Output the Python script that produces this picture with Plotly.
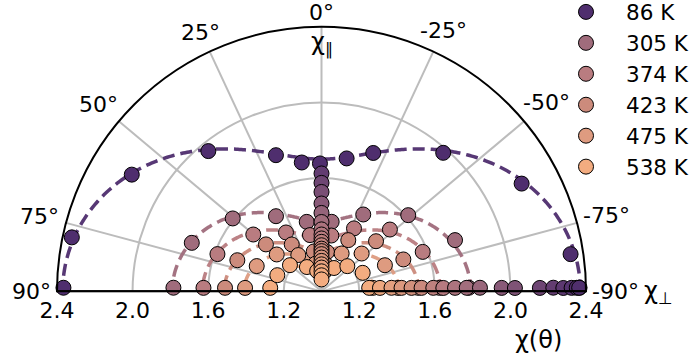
import numpy as np
import plotly.graph_objects as go

# Temperatures of the angular sweeps and their colours
temps = [86, 305, 374, 423, 475, 538]
colors = ["#4f2e6e", "#a06c7c", "#b97c80", "#cc8b7c", "#de9b80", "#f3ac80"]

# Angular sweeps: field angle (deg) and susceptibility chi(theta)
theta_86 = [89.2, 77.8, 58.4, 38.9, 18.5, 8.7, 0.7, -10.7, -20.5, -41.3, -61.7, -81.5, -89.2]
chi_86 = [2.366, 2.352, 2.179, 1.954, 1.760, 1.690, 1.677, 1.716, 1.782, 1.976, 2.203, 2.333, 2.366]

theta_305 = [88.6, 69.5, 50.6, 31.2, 12.0, -8.3, -28.5, -48.7, -69.0, -88.6]
chi_305 = [1.784, 1.733, 1.608, 1.465, 1.376, 1.372, 1.463, 1.611, 1.757, 1.780]

theta_374 = [88.3, 70.3, 50.2, 31.1, 11.6, -10.0, -27.3, -47.9, -68.7, -88.3]
chi_374 = [1.625, 1.585, 1.470, 1.364, 1.304, 1.300, 1.375, 1.488, 1.575, 1.625]

theta_423 = [87.9, 69.7, 49.8, 32.4, 11.0, -8.0, -27.6, -47.4, -68.7, -87.9]
chi_423 = [1.511, 1.475, 1.385, 1.294, 1.215, 1.210, 1.306, 1.392, 1.465, 1.511]

theta_475 = [87.4, 68.7, 50.5, 32.6, 12.0, -8.0, -28.0, -46.7, -67.6, -87.4]
chi_475 = [1.405, 1.368, 1.307, 1.228, 1.150, 1.145, 1.227, 1.292, 1.363, 1.405]

theta_538 = [86.1, 69.9, 50.3, 31.0, 12.0, -8.0, -28.0, -45.7, -65.8, -86.1]
chi_538 = [1.272, 1.249, 1.217, 1.150, 1.110, 1.105, 1.140, 1.191, 1.239, 1.272]

sweep_theta = [theta_86, theta_305, theta_374, theta_423, theta_475, theta_538]
sweep_chi = [chi_86, chi_305, chi_374, chi_423, chi_475, chi_538]

# Fitted chi_par / chi_perp for each temperature (dashed curves)
fit_par = [1.70, 1.37, 1.28, 1.21, 1.15, 1.10]
fit_perp = [2.37, 1.79, 1.63, 1.515, 1.41, 1.275]

# Temperature sweep: chi_par (field along 0 deg) and chi_perp (field along -90 deg)
chi_par_T = [1.624, 1.574, 1.526, 1.465, 1.415, 1.367, 1.328, 1.301, 1.280, 1.262,
             1.244, 1.226, 1.213, 1.197, 1.179, 1.161, 1.143, 1.126, 1.106, 1.085, 1.063]
chi_perp_T = [1.253, 1.310, 1.371, 1.424, 1.477, 1.530, 1.592, 1.645, 1.707, 1.769,
              1.839, 1.954, 2.024, 2.156, 2.227, 2.280, 2.324, 2.351, 2.364]
theta_perp_T = [-85.8, -86.6, -87.1, -87.5, -87.8, -88.0, -88.2, -88.4, -88.5, -88.6,
                -88.7, -88.9, -89.0, -89.1, -89.1, -89.2, -89.2, -89.2, -89.2]

# Axis ticks
radial_ticks = [1.2, 1.6, 2.0, 2.4]
angle_ticks = [-90, -75, -50, -25, 0, 25, 50, 75, 90]
angle_text = [f"{a}°" for a in angle_ticks]

FONT = "DejaVu Sans"
FS = 22
W, H = 689, 358
R_MIN, R_MAX = 1.0, 2.4

# Pixel frame of the half disc
x0, x1 = 57, 586
ytop, ybase = 26.7, 291.5
cx, cy = (x0 + x1) / 2, ybase
rim = (x1 - x0) / 2

colorscale = [[(t - temps[0]) / (temps[-1] - temps[0]), c] for t, c in zip(temps, colors)]

fig = go.Figure()

# Fitted curves chi(theta) = chi_par cos^2 + chi_perp sin^2
th = np.linspace(-90, 90, 361)
for cpar, cperp, col in zip(fit_par, fit_perp, colors):
    rad = np.deg2rad(th)
    fig.add_trace(go.Scatterpolar(
        r=cpar * np.cos(rad) ** 2 + cperp * np.sin(rad) ** 2, theta=th,
        mode="lines", line=dict(color=col, width=3.5, dash="12px,6px"),
        opacity=0.95, showlegend=False, hoverinfo="skip", cliponaxis=False))

# Angular sweeps
for t, col, ths, chis in zip(temps, colors, sweep_theta, sweep_chi):
    fig.add_trace(go.Scatterpolar(
        r=chis, theta=ths, mode="markers", name=f"{t} K", legendgroup=str(t),
        marker=dict(size=15, color=col, line=dict(color="black", width=1)),
        cliponaxis=False))

# Temperature sweep, coloured by temperature through the fitted chi(T)
T_par = np.interp(chi_par_T, fit_par[::-1], temps[::-1])
T_perp = np.interp(chi_perp_T, fit_perp[::-1], temps[::-1])
fig.add_trace(go.Scatterpolar(
    r=chi_perp_T, theta=theta_perp_T, mode="markers", showlegend=False,
    marker=dict(size=15, color=T_perp, coloraxis="coloraxis",
                line=dict(color="black", width=1)), cliponaxis=False))
fig.add_trace(go.Scatterpolar(
    r=chi_par_T, theta=[0] * len(chi_par_T), mode="markers", showlegend=False,
    marker=dict(size=15, color=T_par, coloraxis="coloraxis",
                line=dict(color="black", width=1)), cliponaxis=False))

# Base line of the half disc
fig.add_trace(go.Scatterpolar(
    r=[R_MAX, R_MIN, R_MAX], theta=[90, 0, -90], mode="lines",
    line=dict(color="black", width=2), showlegend=False, hoverinfo="skip",
    cliponaxis=False))

# Radial tick labels on both sides of the base line (hidden markers set the gap)
for side in (90, -90):
    fig.add_trace(go.Scatterpolar(
        r=radial_ticks, theta=[side] * len(radial_ticks), mode="markers+text",
        marker=dict(size=14, opacity=0),
        text=[f"{v:.1f}" for v in radial_ticks], textposition="bottom center",
        textfont=dict(size=FS, color="black", family=FONT),
        showlegend=False, hoverinfo="skip", cliponaxis=False))

# Angular tick labels: centred just outside the rim along each tick direction
char_w = {"-": 0.361, "°": 0.5}


def text_width(s):
    return sum(char_w.get(c, 0.636) for c in s) * FS


pad = 6
annotations = []
for a, s in zip(angle_ticks, angle_text):
    ar = np.deg2rad(a)
    extent = abs(np.sin(ar)) * text_width(s) / 2 + abs(np.cos(ar)) * 0.37 * FS
    dist = rim + extent + pad
    px = cx - np.sin(ar) * dist
    py = cy - np.cos(ar) * dist
    annotations.append(dict(
        text=s, x=px / W, y=1 - py / H, xref="paper", yref="paper",
        xanchor="center", yanchor="middle", showarrow=False,
        font=dict(size=FS, family=FONT)))

annotations += [
    dict(text="χ<sub>∥</sub>", x=322 / W, y=1 - 44 / H, xref="paper", yref="paper",
         xanchor="center", yanchor="middle",
         showarrow=False, font=dict(size=FS + 2, family=FONT)),
    dict(text="χ<sub>⊥</sub>", x=658 / W, y=1 - 292 / H, xref="paper", yref="paper",
         xanchor="center", yanchor="middle",
         showarrow=False, font=dict(size=FS + 2, family=FONT)),
    dict(text="χ(θ)", x=538 / W, y=1 - 340 / H, xref="paper", yref="paper",
         xanchor="center", yanchor="middle",
         showarrow=False, font=dict(size=FS + 2, family=FONT)),
]

fig.update_layout(
    width=W, height=H,
    margin=dict(l=0, r=0, t=0, b=0, autoexpand=False),
    paper_bgcolor="white",
    font=dict(family=FONT, size=FS, color="black"),
    coloraxis=dict(colorscale=colorscale, cmin=temps[0], cmax=temps[-1], showscale=False),
    polar=dict(
        domain=dict(x=[x0 / W, x1 / W], y=[1 - ybase / H, 1 - ytop / H]),
        sector=[0, 180],
        bgcolor="white",
        angularaxis=dict(
            rotation=90, direction="counterclockwise",
            tickmode="array", tickvals=angle_ticks, ticktext=angle_text,
            showticklabels=False,
            ticks="", showline=True, linecolor="black", linewidth=2,
            gridcolor="#bcbcbc", gridwidth=1.5),
        radialaxis=dict(
            range=[R_MIN, R_MAX], tickmode="array", tickvals=radial_ticks,
            showticklabels=False, ticks="", showline=False,
            gridcolor="#bcbcbc", gridwidth=1.5),
    ),
    legend=dict(x=546 / W, y=1.024, xanchor="left", yanchor="top",
                font=dict(size=21.5, family=FONT), bgcolor="rgba(0,0,0,0)",
                itemwidth=70, tracegroupgap=0, maxheight=1.0),
    annotations=annotations,
)

fig.write_html("out.html")
